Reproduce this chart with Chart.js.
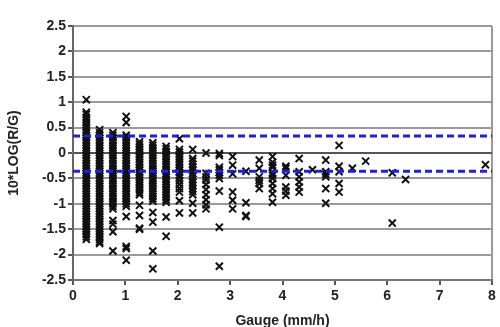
<!DOCTYPE html>
<html>
<head>
<meta charset="utf-8">
<script src="https://cdn.jsdelivr.net/npm/chart.js@4/dist/chart.umd.min.js"></script>
<style>
  html, body { margin: 0; padding: 0; background: #fff; }
  #wrap { width: 500px; height: 327px; }
</style>
</head>
<body>
<div id="wrap"><canvas id="chart"></canvas></div>
<script>
// gauge rain rate columns (mm/h)
const gauge = [0.254, 0.508, 0.762, 1.016, 1.27, 1.524, 1.778, 2.032, 2.286, 2.54,
  2.794, 3.048, 3.302, 3.556, 3.81, 4.064, 4.318, 4.572, 4.826, 5.08,
  5.334, 5.588, 6.096, 6.35, 7.874];

// 10*log(R/G) read for each gauge column
const ratio = [
  [1.05, 0.80, 0.76, 0.70, 0.65, 0.60, 0.55, 0.50, 0.45, 0.40, 0.35, 0.30, 0.25, 0.20, 0.15, 0.10, 0.05, 0.00,
   -0.05, -0.10, -0.15, -0.20, -0.25, -0.30, -0.35, -0.40, -0.45, -0.50, -0.55, -0.60, -0.65, -0.70, -0.75,
   -0.80, -0.85, -0.90, -0.95, -1.00, -1.05, -1.10, -1.15, -1.20, -1.25, -1.30, -1.35, -1.40, -1.45, -1.50,
   -1.55, -1.60, -1.65, -1.70],
  [0.46, 0.40, 0.35, 0.30, 0.25, 0.20, 0.15, 0.10, 0.05, 0.00, -0.05, -0.10, -0.15, -0.20, -0.25, -0.30,
   -0.35, -0.40, -0.45, -0.50, -0.55, -0.60, -0.65, -0.70, -0.75, -0.80, -0.85, -0.90, -0.95, -1.00, -1.05,
   -1.10, -1.15, -1.20, -1.25, -1.30, -1.35, -1.40, -1.45, -1.50, -1.55, -1.60, -1.65, -1.70, -1.75, -1.78],
  [0.40, 0.35, 0.30, 0.25, 0.20, 0.15, 0.10, 0.05, 0.00, -0.05, -0.10, -0.15, -0.20, -0.25, -0.30, -0.35,
   -0.40, -0.45, -0.50, -0.55, -0.60, -0.65, -0.70, -0.75, -0.80, -0.85, -0.90, -0.95, -1.00, -1.05, -1.10,
   -1.33, -1.40, -1.55, -1.93],
  [0.72, 0.60, 0.35, 0.30, 0.25, 0.20, 0.15, 0.10, 0.05, 0.00, -0.05, -0.10, -0.15, -0.20, -0.25, -0.30,
   -0.35, -0.40, -0.45, -0.50, -0.55, -0.60, -0.65, -0.70, -0.75, -0.80, -0.85, -0.90, -0.95, -1.00, -1.05,
   -1.25, -1.84, -1.88, -2.11],
  [0.22, 0.17, 0.12, 0.07, 0.02, -0.03, -0.08, -0.13, -0.18, -0.23, -0.28, -0.33, -0.38, -0.43, -0.48,
   -0.53, -0.58, -0.63, -0.68, -0.73, -0.78, -0.82, -1.03, -1.23, -1.48, -1.50],
  [0.20, 0.15, 0.10, 0.05, 0.00, -0.05, -0.10, -0.15, -0.20, -0.25, -0.30, -0.35, -0.40, -0.45, -0.50,
   -0.55, -0.60, -0.65, -0.70, -0.75, -0.80, -0.85, -0.90, -0.95, -1.17, -1.36, -1.93, -2.28],
  [0.13, 0.08, 0.03, -0.02, -0.07, -0.12, -0.17, -0.22, -0.27, -0.32, -0.37, -0.42, -0.47, -0.52, -0.57,
   -0.62, -0.67, -0.72, -0.77, -0.82, -0.87, -0.92, -0.97, -1.26, -1.64],
  [0.28, 0.07, 0.02, -0.03, -0.08, -0.13, -0.18, -0.23, -0.28, -0.33, -0.38, -0.43, -0.48, -0.55, -0.62,
   -0.70, -0.77, -0.94, -1.18],
  [0.07, -0.11, -0.16, -0.22, -0.28, -0.34, -0.40, -0.46, -0.52, -0.58, -0.64, -0.70, -0.76, -0.82, -0.99, -1.18],
  [0.00, -0.40, -0.47, -0.53, -0.62, -0.72, -0.82, -0.92, -1.02, -1.10],
  [-0.01, -0.05, -0.28, -0.33, -0.38, -0.44, -0.50, -0.75, -1.46, -2.23],
  [-0.07, -0.24, -0.41, -0.77, -0.93, -1.10],
  [-0.36, -0.98, -1.23, -1.25],
  [-0.14, -0.30, -0.47, -0.54, -0.60, -0.70],
  [-0.07, -0.18, -0.24, -0.28, -0.40, -0.44, -0.50, -0.60, -0.70, -0.80, -0.97],
  [-0.26, -0.30, -0.44, -0.67, -0.75, -0.83],
  [-0.11, -0.37, -0.47, -0.57, -0.67, -0.77],
  [-0.33],
  [-0.14, -0.37, -0.42, -0.47, -0.70, -0.99],
  [0.15, -0.26, -0.37, -0.60, -0.77],
  [-0.30],
  [-0.16],
  [-0.39, -1.38],
  [-0.52],
  [-0.23]
];

// blue dashed reference levels
const upperLevel = 0.335;
const lowerLevel = -0.36;
const xRange = [0, 8];
const yTicks = [-2.5, -2, -1.5, -1, -0.5, 0, 0.5, 1, 1.5, 2, 2.5];

const points = [];
gauge.forEach((g, i) => ratio[i].forEach(r => points.push({ x: g, y: r })));

const textColor = '#222';
const tickFont = { family: 'Liberation Sans', size: 14, weight: 'bold' };

new Chart(document.getElementById('chart'), {
  type: 'scatter',
  data: {
    datasets: [{
      data: xRange.map(x => ({ x: x, y: upperLevel })),
      showLine: true,
      borderColor: '#1f1fe0',
      borderWidth: 3,
      borderDash: [7, 4],
      pointRadius: 0,
      order: 0
    }, {
      data: xRange.map(x => ({ x: x, y: lowerLevel })),
      showLine: true,
      borderColor: '#1f1fe0',
      borderWidth: 3,
      borderDash: [7, 4],
      pointRadius: 0,
      order: 0
    }, {
      data: points,
      pointStyle: 'crossRot',
      pointRadius: 5,
      borderColor: '#111',
      borderWidth: 2,
      order: 1
    }]
  },
  options: {
    responsive: true,
    maintainAspectRatio: false,
    animation: false,
    layout: { padding: { top: 26, right: 8, left: 0, bottom: 0 } },
    plugins: { legend: { display: false }, tooltip: { enabled: false } },
    scales: {
      x: {
        type: 'linear',
        min: 0,
        max: 8,
        ticks: { stepSize: 1, color: textColor, font: tickFont, padding: 3, maxRotation: 0 },
        grid: {
          color: c => c.tick && c.tick.value === 8 ? '#9a9a9a' : 'rgba(0,0,0,0)',
          lineWidth: 2,
          tickColor: '#555',
          tickLength: 5
        },
        border: { color: '#777', width: 2 },
        title: {
          display: true,
          text: 'Gauge (mm/h)',
          color: textColor,
          font: { family: 'Liberation Sans', size: 14, weight: 'bold', lineHeight: 0.9 },
          padding: 0
        },
        afterFit: s => { s.height = 47; }
      },
      y: {
        min: -2.5,
        max: 2.5,
        afterBuildTicks: s => { s.ticks = yTicks.map(v => ({ value: v })); },
        ticks: { color: textColor, font: tickFont, padding: 2, callback: v => String(v) },
        grid: {
          color: c => c.tick && c.tick.value === 0 ? '#555' : '#9a9a9a',
          lineWidth: 2,
          tickColor: '#555',
          tickLength: 5
        },
        border: { color: '#666', width: 2 },
        title: {
          display: true,
          text: '10*LOG(R/G)',
          color: textColor,
          font: { family: 'Liberation Sans', size: 14, weight: 'bold' },
          padding: { top: 6, bottom: 6 }
        },
        afterFit: s => { s.width = 73; }
      }
    }
  }
});
</script>
</body>
</html>
